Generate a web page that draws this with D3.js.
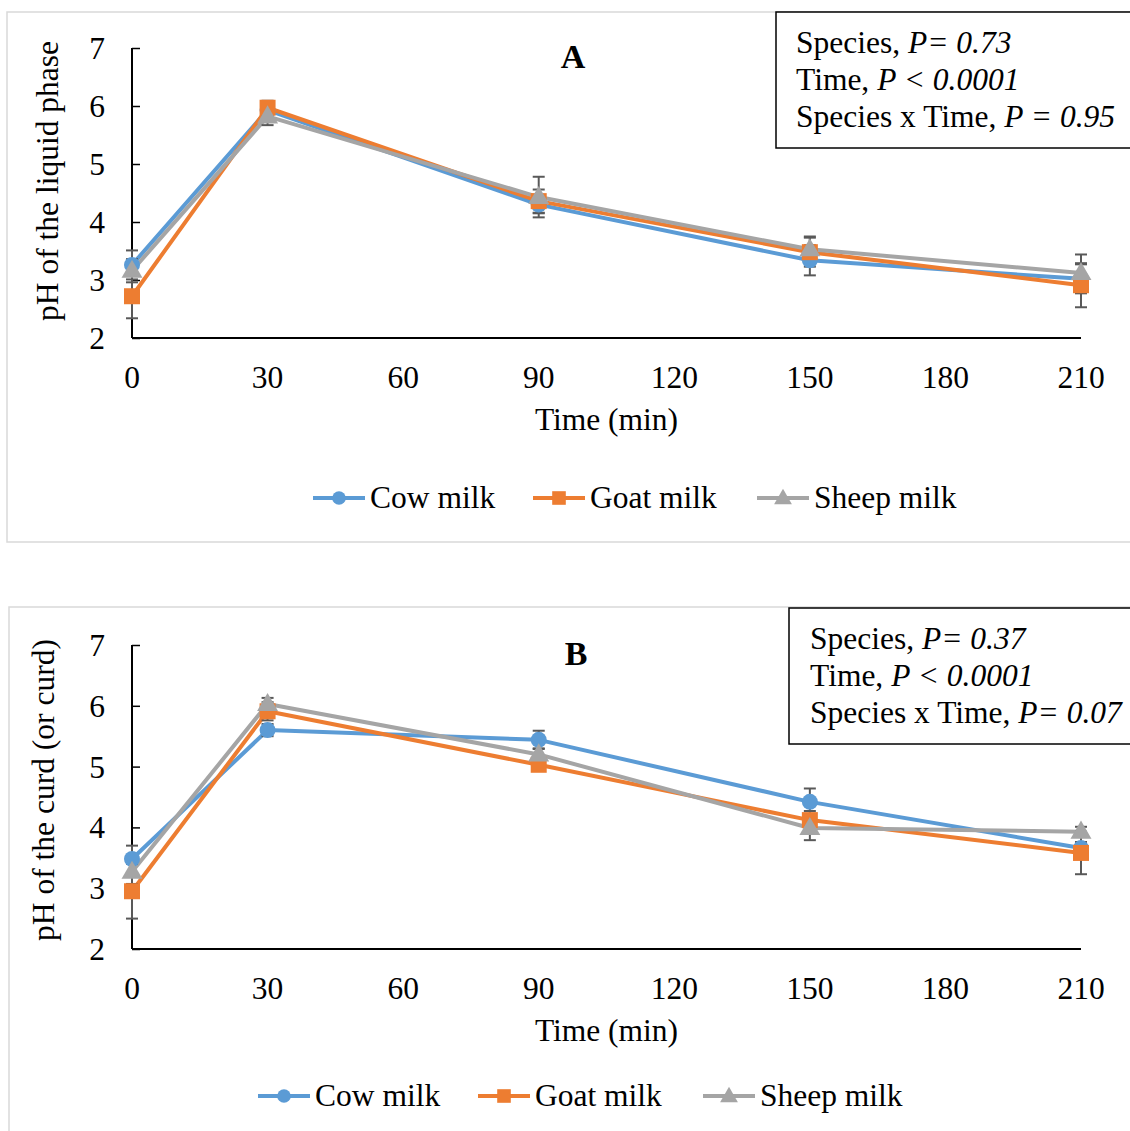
<!DOCTYPE html>
<html>
<head>
<meta charset="utf-8">
<script src="https://cdn.jsdelivr.net/npm/d3@7"></script>
<style>
  body { margin: 0; background: #fff; }
  svg { display: block; }
  text { font-family: "Liberation Serif", "Times New Roman", serif; fill: #000; }
</style>
</head>
<body>
<svg id="chart" width="1130" height="1131"></svg>
<script>
// Sampling times (min)
const times = [0, 30, 90, 150, 210];
const xTicks = [0, 30, 60, 90, 120, 150, 180, 210];
const yTicks = [2, 3, 4, 5, 6, 7];
const seriesNames = ["Cow milk", "Goat milk", "Sheep milk"];
const seriesColors = ["#5B9BD5", "#ED7D31", "#A5A5A5"];
const seriesShapes = ["circle", "square", "triangle"];

// Panel A: pH of the liquid phase
const liquidCow   = [3.26, 5.93, 4.30, 3.34, 3.02];
const liquidGoat  = [2.72, 5.97, 4.36, 3.48, 2.91];
const liquidSheep = [3.16, 5.82, 4.43, 3.53, 3.12];
const liquidCowErr   = [0.25, 0.10, 0.15, 0.26, 0.25];
const liquidGoatErr  = [0.38, 0.12, 0.20, 0.25, 0.38];
const liquidSheepErr = [0.20, 0.15, 0.35, 0.22, 0.32];
const liquidStats = [
  ["Species, ", "P= 0.73"],
  ["Time, ", "P < 0.0001"],
  ["Species x Time, ", "P = 0.95"]
];

// Panel B: pH of the curd
const curdCow   = [3.48, 5.60, 5.44, 4.42, 3.66];
const curdGoat  = [2.95, 5.91, 5.03, 4.12, 3.58];
const curdSheep = [3.27, 6.03, 5.20, 3.99, 3.93];
const curdCowErr   = [0.22, 0.10, 0.15, 0.22, 0.10];
const curdGoatErr  = [0.45, 0.15, 0.10, 0.15, 0.35];
const curdSheepErr = [0.20, 0.10, 0.10, 0.20, 0.08];
const curdStats = [
  ["Species, ", "P= 0.37"],
  ["Time, ", "P < 0.0001"],
  ["Species x Time, ", "P= 0.07"]
];

const FS = 31.5;
const svg = d3.select("#chart");

function drawPanel(cfg) {
  const g = svg.append("g");

  // chart area frame
  g.append("rect")
    .attr("x", cfg.frame[0]).attr("y", cfg.frame[1])
    .attr("width", cfg.frame[2]).attr("height", cfg.frame[3])
    .attr("fill", "#fff").attr("stroke", "#d9d9d9").attr("stroke-width", 1.5);

  const x = d3.scaleLinear().domain([0, 210]).range([cfg.plot.left, cfg.plot.right]);
  const y = d3.scaleLinear().domain([2, 7]).range([cfg.plot.bottom, cfg.plot.top]);

  // y axis with inside ticks
  const yAxis = g.append("g")
    .attr("transform", `translate(${cfg.plot.left},0)`)
    .call(d3.axisRight(y).tickValues(yTicks).tickSize(8).tickFormat(""));
  yAxis.select(".domain").remove();
  yAxis.selectAll(".tick line").attr("stroke", "#000").attr("stroke-width", 1.5);
  g.append("line")
    .attr("x1", cfg.plot.left).attr("x2", cfg.plot.left)
    .attr("y1", y(7)).attr("y2", y(2))
    .attr("stroke", "#000").attr("stroke-width", 2);

  g.selectAll(".ylab").data(yTicks).join("text")
    .attr("x", cfg.plot.left - 27).attr("y", d => y(d) + 11)
    .attr("text-anchor", "end").attr("font-size", FS)
    .text(d => d);

  // x axis
  g.append("line")
    .attr("x1", x(0)).attr("x2", x(210))
    .attr("y1", y(2)).attr("y2", y(2))
    .attr("stroke", "#000").attr("stroke-width", 2);
  g.selectAll(".xlab").data(xTicks).join("text")
    .attr("x", d => x(d)).attr("y", y(2) + 50)
    .attr("text-anchor", "middle").attr("font-size", FS)
    .text(d => d);

  // axis titles
  g.append("text")
    .attr("x", (x(0) + x(210)) / 2).attr("y", y(2) + 92)
    .attr("text-anchor", "middle").attr("font-size", FS)
    .text("Time (min)");
  g.append("text")
    .attr("transform", `translate(${cfg.yTitleX},${cfg.yTitleY}) rotate(-90)`)
    .attr("text-anchor", "middle").attr("font-size", FS)
    .text(cfg.yTitle);

  // panel letter
  g.append("text")
    .attr("x", cfg.letterX).attr("y", y(7) + 20)
    .attr("text-anchor", "middle").attr("font-size", 34).attr("font-weight", "bold")
    .text(cfg.letter);

  const line = d3.line().x((d, i) => x(times[i])).y(d => y(d));

  cfg.series.forEach((vals, s) => {
    g.append("path")
      .datum(vals)
      .attr("d", line)
      .attr("fill", "none")
      .attr("stroke", seriesColors[s])
      .attr("stroke-width", 4)
      .attr("stroke-linejoin", "round");
  });

  // error bars
  cfg.series.forEach((vals, s) => {
    const errs = cfg.errors[s];
    vals.forEach((v, i) => {
      const cx = x(times[i]);
      const y1 = y(v + errs[i]), y2 = y(v - errs[i]);
      g.append("line").attr("x1", cx).attr("x2", cx).attr("y1", y1).attr("y2", y2)
        .attr("stroke", "#595959").attr("stroke-width", 2);
      [y1, y2].forEach(yy => {
        g.append("line").attr("x1", cx - 6).attr("x2", cx + 6).attr("y1", yy).attr("y2", yy)
          .attr("stroke", "#595959").attr("stroke-width", 2);
      });
    });
  });

  cfg.series.forEach((vals, s) => {
    vals.forEach((v, i) => {
      drawMarker(g, seriesShapes[s], x(times[i]), y(v), seriesColors[s], 1);
    });
  });

  // statistics box
  const b = cfg.statsBox;
  g.append("rect")
    .attr("x", b[0]).attr("y", b[1]).attr("width", b[2]).attr("height", b[3])
    .attr("fill", "#fff").attr("stroke", "#000").attr("stroke-width", 1.5);
  cfg.stats.forEach((row, i) => {
    const t = g.append("text")
      .attr("x", cfg.statsTextX).attr("y", b[1] + 41 + i * 37)
      .attr("font-size", FS);
    t.append("tspan").text(row[0]);
    t.append("tspan").attr("font-style", "italic").text(row[1]);
  });

  // legend
  cfg.legendX.forEach((lx, s) => {
    const ly = cfg.legendY;
    g.append("line").attr("x1", lx).attr("x2", lx + 52).attr("y1", ly).attr("y2", ly)
      .attr("stroke", seriesColors[s]).attr("stroke-width", 4);
    drawMarker(g, seriesShapes[s], lx + 26, ly, seriesColors[s], 0.85);
    g.append("text").attr("x", lx + 57).attr("y", ly + 10)
      .attr("font-size", FS).text(seriesNames[s]);
  });
}

function drawMarker(g, shape, cx, cy, color, k) {
  if (shape === "circle") {
    g.append("circle").attr("cx", cx).attr("cy", cy).attr("r", 8 * k).attr("fill", color);
  } else if (shape === "square") {
    const h = 8 * k;
    g.append("rect").attr("x", cx - h).attr("y", cy - h).attr("width", 2 * h).attr("height", 2 * h)
      .attr("fill", color);
  } else {
    const sym = d3.symbol().type(d3.symbolTriangle).size(190 * k * k);
    g.append("path").attr("d", sym()).attr("transform", `translate(${cx},${cy + 1})`)
      .attr("fill", color);
  }
}

drawPanel({
  frame: [7, 12, 1140, 530],
  plot: { left: 132, right: 1081, top: 48, bottom: 338 },
  yTitle: "pH of the liquid phase",
  yTitleX: 58,
  yTitleY: 181,
  letter: "A",
  letterX: 573,
  series: [liquidCow, liquidGoat, liquidSheep],
  errors: [liquidCowErr, liquidGoatErr, liquidSheepErr],
  stats: liquidStats,
  statsBox: [776, 12, 360, 136],
  statsTextX: 796,
  legendX: [313, 533, 757],
  legendY: 498
});

drawPanel({
  frame: [9, 607, 1140, 540],
  plot: { left: 132, right: 1081, top: 645, bottom: 949 },
  yTitle: "pH of the curd (or curd)",
  yTitleX: 54,
  yTitleY: 790,
  letter: "B",
  letterX: 576,
  series: [curdCow, curdGoat, curdSheep],
  errors: [curdCowErr, curdGoatErr, curdSheepErr],
  stats: curdStats,
  statsBox: [789, 608, 350, 136],
  statsTextX: 810,
  legendX: [258, 478, 703],
  legendY: 1096
});
</script>
</body>
</html>
